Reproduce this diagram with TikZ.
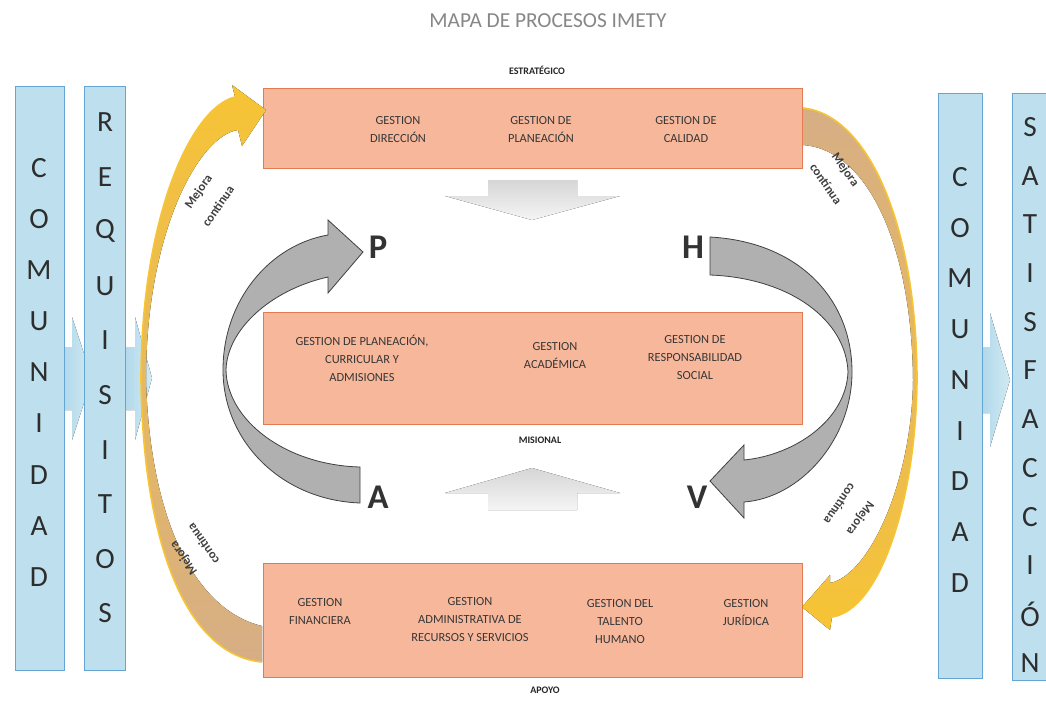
\documentclass[tikz,border=0pt]{standalone}
\usepackage{fontspec}
\setmainfont{Carlito}
\definecolor{boxfill}{RGB}{247,183,155}
\definecolor{boxdraw}{RGB}{226,122,82}
\definecolor{colfill}{RGB}{190,224,238}
\definecolor{coldraw}{RGB}{100,165,212}
\definecolor{arrblue}{RGB}{168,212,232}
\definecolor{gold}{RGB}{247,196,52}
\definecolor{tanc}{RGB}{214,174,134}
\definecolor{txt}{RGB}{55,55,55}
\definecolor{lettc}{RGB}{45,45,45}
\definecolor{titlegray}{RGB}{135,135,135}
\definecolor{lgray}{RGB}{214,214,214}
\begin{document}
\begin{tikzpicture}[x=0.75pt,y=-0.75pt,
  procbox/.style={draw=boxdraw, line width=0.6pt, fill=boxfill, inner sep=0pt},
  colbox/.style={draw=coldraw, line width=0.5pt, fill=colfill, inner sep=0pt},
  bigletter/.style={font=\fontsize{22}{22}\selectfont, text=lettc, inner sep=0pt},
  ptxt/.style={font=\fontsize{9.3}{13.5}\selectfont, text=txt, align=center, inner sep=0pt},
  lvl/.style={font=\fontsize{7.5}{9}\selectfont\bfseries, text=black!85, inner sep=0pt},
  mejora/.style={font=\fontsize{9.5}{12}\selectfont\bfseries, text=black!75, inner sep=0pt},
  phva/.style={font=\fontsize{26}{26}\selectfont\bfseries, text=black!80, inner sep=0pt},
  grayarc/.style={fill=gray!62, draw=black!75, line width=0.6pt},
  lightarrow/.style={top color=lgray, bottom color=gray!8, draw=none},
  bluearrow/.style={left color=arrblue, right color=colfill!70, draw=none}
]
\useasboundingbox (0,0) rectangle (1046,700);
\fill[white] (0,0) rectangle (1046,700);

% small blue arrows between the columns
\fill[bluearrow] (55,347) -- (72,347) -- (72,317) -- (92,378) -- (72,440) -- (72,410) -- (55,410) -- cycle;
\fill[bluearrow] (118,347) -- (135,347) -- (135,317) -- (152,378) -- (135,440) -- (135,410) -- (118,410) -- cycle;
\fill[bluearrow] (975,347) -- (990,347) -- (990,313) -- (1010,380) -- (990,447) -- (990,413) -- (975,413) -- cycle;

% columns
\node[colbox, minimum width=36.75pt, minimum height=438pt] (comL) at (39.5,378) {};
\node[colbox, minimum width=30.75pt, minimum height=438pt] (req) at (104.5,378) {};
\node[colbox, minimum width=33pt, minimum height=438.75pt] (comR) at (960,385.5) {};
\node[colbox, minimum width=30pt, minimum height=440.25pt] (sat) at (1032,386.5) {};

\foreach \l [count=\i] in {C,O,M,U,N,I,D,A,D}
  \node[bigletter] (cl\i) at ({39},{168+51.1*(\i-1)}) {\l};
\foreach \l [count=\i] in {R,E,Q,U,I,S,I,T,O,S}
  \node[bigletter] (rq\i) at ({105},{122+54.6*(\i-1)}) {\l};
\foreach \l [count=\i] in {C,O,M,U,N,I,D,A,D}
  \node[bigletter] (cr\i) at ({960},{177+50.75*(\i-1)}) {\l};
\foreach \l [count=\i] in {S,A,T,I,S,F,A,C,C,I,Ó,N}
  \node[bigletter] (st\i) at ({1030},{127+48.7*(\i-1)}) {\l};

% process boxes
\node[procbox, minimum width=404.25pt, minimum height=60pt] (estr) at (533,128) {};
\node[procbox, minimum width=404.25pt, minimum height=84pt] (mis) at (532.5,368) {};
\node[procbox, minimum width=404.25pt, minimum height=85.5pt] (apo) at (532.5,620) {};

% light gray block arrows
\fill[lightarrow] (488,180) -- (577,180) -- (577,196) -- (620,196) -- (532,220) -- (445,196) -- (488,196) -- cycle;
\fill[lightarrow] (532,468) -- (620,493) -- (577,493) -- (577,510) -- (488,510) -- (488,493) -- (445,493) -- cycle;

% yellow "mejora continua" arcs
\fill[top color=gold, middle color=gold, bottom color=tanc]
  (262,662) .. controls (185,655) and (143,540) .. (141,380)
  .. controls (141,220) and (190,108) .. (235,97)
  -- (232,85) -- (266,110) -- (242,146) -- (238,130)
  .. controls (200,135) and (146,230) .. (146,380)
  .. controls (150,520) and (195,610) .. (262,626) -- cycle;
\draw[gold, line width=1.2pt] (262,662) .. controls (185,655) and (143,540) .. (141,380)
  .. controls (141,220) and (190,108) .. (235,97);
\fill[top color=tanc, middle color=gold, bottom color=gold]
  (803,108) .. controls (870,115) and (917,230) .. (917,380)
  .. controls (916,500) and (880,610) .. (832,617)
  -- (830,630) -- (802,607) -- (830,575) -- (830,583)
  .. controls (870,575) and (912,480) .. (913,380)
  .. controls (912,250) and (870,150) .. (803,145) -- cycle;
\draw[gold, line width=1.2pt] (803,108) .. controls (870,115) and (917,230) .. (917,380)
  .. controls (916,500) and (880,610) .. (832,617);

% PHVA arrows
\draw[grayarc]
  (360,503) .. controls (280,500) and (223,440) .. (223,370)
  .. controls (223,300) and (270,245) .. (328,235)
  -- (328,220) -- (363,252) -- (328,293) -- (328,277)
  .. controls (270,290) and (227,330) .. (226,370)
  .. controls (227,420) and (285,465) .. (360,467) -- cycle;
\draw[grayarc]
  (710,237) .. controls (800,242) and (852,300) .. (852,372)
  .. controls (852,440) and (800,498) .. (744,502)
  -- (744,518) -- (710,481) -- (744,445) -- (744,460)
  .. controls (795,455) and (846,420) .. (848,372)
  .. controls (846,320) and (790,278) .. (710,275) -- cycle;

\node[phva] (P) at (378,247) {P};
\node[phva] (H) at (693,247) {H};
\node[phva] (A) at (378,497) {A};
\node[phva] (V) at (697,497) {V};

% titles and labels
\node[font=\fontsize{16}{18}\selectfont, text=titlegray] (title) at (548,21) {MAPA DE PROCESOS IMETY};
\node[lvl] (lE) at (537,70) {ESTRATÉGICO};
\node[lvl] (lM) at (540,440) {MISIONAL};
\node[lvl] (lA) at (545,690) {APOYO};

% box texts
\node[ptxt] (t1) at (398,130) {GESTION\\DIRECCIÓN};
\node[ptxt] (t2) at (541,130) {GESTION DE\\PLANEACIÓN};
\node[ptxt] (t3) at (686,130) {GESTION DE\\CALIDAD};
\node[ptxt] (m1) at (362,358) {GESTION DE PLANEACIÓN,\\CURRICULAR Y\\ADMISIONES};
\node[ptxt] (m2) at (555,356) {GESTION\\ACADÉMICA};
\node[ptxt] (m3) at (695,358) {GESTION DE\\RESPONSABILIDAD\\SOCIAL};
\node[ptxt] (b1) at (320,612) {GESTION\\FINANCIERA};
\node[ptxt] (b2) at (470,620) {GESTION\\ADMINISTRATIVA DE\\RECURSOS Y SERVICIOS};
\node[ptxt] (b3) at (620,622) {GESTION DEL\\TALENTO\\HUMANO};
\node[ptxt] (b4) at (746,613) {GESTION\\JURÍDICA};

% mejora continua labels (one node per line)
\node[mejora, rotate=55] (mj1a) at (199,192) {Mejora};
\node[mejora, rotate=55] (mj1b) at (218,206) {continua};
\node[mejora, rotate=125] (mj2a) at (184,558) {Mejora};
\node[mejora, rotate=125] (mj2b) at (203,544) {continua};
\node[mejora, rotate=-55] (mj3a) at (845,170) {Mejora};
\node[mejora, rotate=-55] (mj3b) at (826,184) {contínua};
\node[mejora, rotate=235] (mj4a) at (860,518) {Mejora};
\node[mejora, rotate=235] (mj4b) at (840,504) {contínua};
\end{tikzpicture}
\end{document}
